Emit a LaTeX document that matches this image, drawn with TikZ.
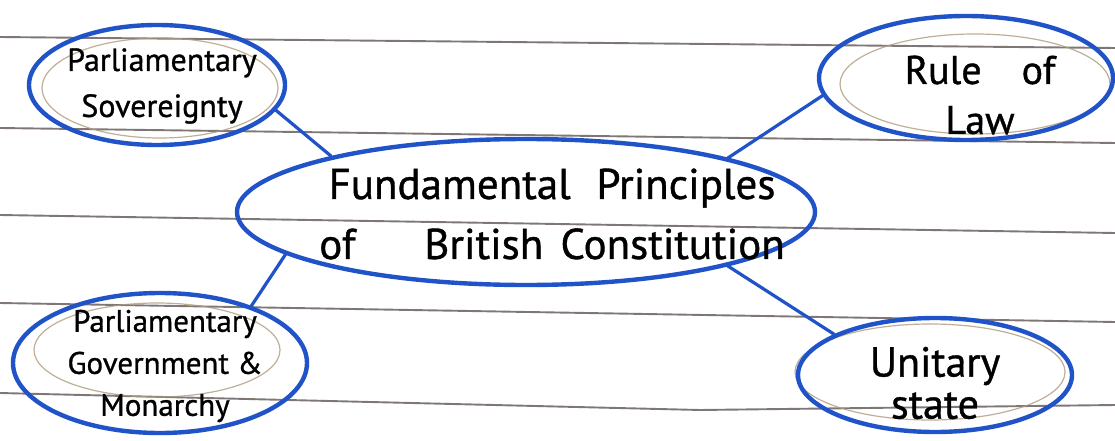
\documentclass[tikz,border=0pt]{standalone}
\usepackage{fontspec}
\setmainfont{PT Sans}
\newfontfamily\handfont{PT Sans}[FakeBold=0.9]
\usetikzlibrary{shapes.geometric}
\definecolor{ink}{RGB}{32,82,200}
\definecolor{ruling}{RGB}{105,95,95}
\definecolor{pencil}{RGB}{175,155,125}
\begin{document}
\begin{tikzpicture}[x=1pt,y=-1pt,
  bubble/.style={ellipse, draw=ink, line width=4.4pt, inner sep=0pt},
  link/.style={draw=ink, line width=3.2pt, line cap=round},
  sketch/.style={draw=pencil, line width=1.2pt, opacity=0.8},
  ruled/.style={draw=ruling, line width=1.9pt, opacity=0.85},
  hand/.style={align=center, inner sep=0pt, text=black}]

% paper
\fill[white] (0,0) rectangle (1115,441);
\useasboundingbox (0,0) rectangle (1115,441);

% ruled lines of the notebook page
\draw[ruled] (0,37) -- (1115,48);
\draw[ruled] (0,128) -- (1115,143);
\draw[ruled] (0,215) -- (1115,233);
\draw[ruled] (0,303) -- (1115,322);
\draw[ruled] (0,393) -- (700,410) -- (1115,405);

% faint pencil outlines under the ink
\draw[sketch] (160,88) ellipse [x radius=118, y radius=50];
\draw[sketch] (975,84) ellipse [x radius=135, y radius=50];
\draw[sketch] (157,350) ellipse [x radius=123, y radius=47];
\draw[sketch] (930,372) ellipse [x radius=135, y radius=48];

% bubbles
\node[bubble, minimum width=578pt, minimum height=146pt] (core) at (526,212) {};
\node[bubble, minimum width=256pt, minimum height=120pt] (sov) at (157,85) {};
\node[bubble, minimum width=294pt, minimum height=124pt] (law) at (966,78) {};
\node[bubble, minimum width=294pt, minimum height=140pt] (gov) at (160,363) {};
\node[bubble, minimum width=274pt, minimum height=114pt] (uni) at (935,375) {};

% labels
\node[hand, font=\handfont\fontsize{43}{60}\selectfont] (coret) at (552,214)
  {Fundamental\hspace{0.6em}Principles\\ of\hspace{1.6em}British\hspace{0.4em}Constitution};
\node[hand, font=\handfont\fontsize{32}{46}\selectfont] (sovt) at (162,86)
  {Parliamentary\\ Sovereignty};
\node[hand, font=\handfont\fontsize{40}{50}\selectfont] (lawt) at (980,95)
  {Rule\hspace{1em}of\\ Law};
\node[hand, font=\handfont\fontsize{31}{42}\selectfont] (govt) at (165,366)
  {Parliamentary\\ Government \&\\ Monarchy};
\node[hand, font=\handfont\fontsize{42}{42}\selectfont] (unit) at (935,383)
  {Unitary\\ state};

% connectors
\draw[link] (sov.-12) -- (core.164);
\draw[link] (law.-173) -- (core.15);
\draw[link] (core.190) -- (gov.32);
\draw[link] (core.-15) -- (uni.158);
\end{tikzpicture}
\end{document}
